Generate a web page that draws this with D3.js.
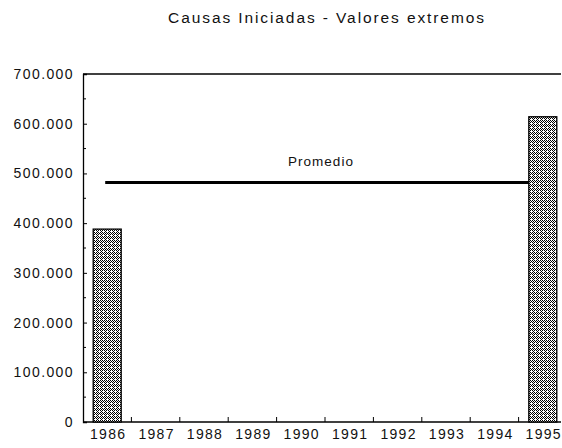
<!DOCTYPE html>
<html><head><meta charset="utf-8">
<script src="https://cdn.jsdelivr.net/npm/d3@7"></script>
<style>body{margin:0;background:#fff}svg{display:block}text{font-family:"Liberation Sans",Arial,sans-serif;fill:#111}</style>
</head><body>
<svg id="c" width="562" height="448"></svg>
<script>
const years = ["1986","1987","1988","1989","1990","1991","1992","1993","1994","1995"];
const values = [388000,null,null,null,null,null,null,null,null,614000];
const promedio = 482000;
const yTicks = [0,100000,200000,300000,400000,500000,600000,700000];
const title = "Causas Iniciadas - Valores extremos";

const svg = d3.select("#c");
const L=83, R=567, T=74, B=422;
const x = d3.scaleBand().domain(years).range([L,R]).paddingInner(0).paddingOuter(0);
const y = d3.scaleLinear().domain([0,700000]).range([B,T]);
const fmt = d => d===0 ? "0" : d3.format(",")(d).replace(/,/g,".");

const defs = svg.append("defs");
const pat = defs.append("pattern").attr("id","dots").attr("patternUnits","userSpaceOnUse").attr("width",4).attr("height",4);
pat.append("rect").attr("width",4).attr("height",4).attr("fill","#fff");
[[0,0],[2,0],[1,1],[3,1],[0,2],[2,2],[1,3]].forEach(([a,b])=>
  pat.append("rect").attr("x",a).attr("y",b).attr("width",1).attr("height",1).attr("fill","#000"));

svg.append("text").attr("x",327).attr("y",23).attr("text-anchor","middle").attr("font-size",15.5).attr("letter-spacing",1.9).text(title);

// frame
svg.append("line").attr("x1",L).attr("x2",561).attr("y1",T).attr("y2",T).attr("stroke","#000").attr("stroke-width",1.3);

// y axis
const ya = svg.append("g").attr("transform",`translate(${L},0)`)
  .call(d3.axisRight(y).tickValues(yTicks).tickSize(4).tickFormat(""));
ya.select(".domain").attr("stroke-width",1.3);
const yMinor = d3.range(50000,700000,100000);
svg.append("g").selectAll("line").data(yMinor).join("line")
  .attr("x1",L).attr("x2",L+3).attr("y1",d=>y(d)).attr("y2",d=>y(d)).attr("stroke","#000");
svg.append("g").selectAll("text").data(yTicks).join("text")
  .attr("x",74).attr("y",d=>y(d)+5).attr("text-anchor","end").attr("font-size",14).attr("letter-spacing",1.4)
  .text(fmt);

// x axis
svg.append("line").attr("x1",L).attr("x2",561).attr("y1",B).attr("y2",B).attr("stroke","#000").attr("stroke-width",1.3);
const bounds = years.slice(1).map(d=>x(d));
svg.append("g").selectAll("line").data(bounds).join("line")
  .attr("x1",d=>d).attr("x2",d=>d).attr("y1",B).attr("y2",B-5).attr("stroke","#000");
svg.append("g").selectAll("text").data(years).join("text")
  .attr("x",d=>x(d)+x.bandwidth()/2+1).attr("y",B+17).attr("text-anchor","middle").attr("font-size",14).attr("letter-spacing",1.3)
  .text(d=>d);

// promedio line
svg.append("line").attr("x1",x(years[0])+x.bandwidth()/2-2).attr("x2",x(years[9])+x.bandwidth()/2)
  .attr("y1",y(promedio)).attr("y2",y(promedio)).attr("stroke","#000").attr("stroke-width",3);
svg.append("text").attr("x",321).attr("y",y(promedio)-16).attr("text-anchor","middle").attr("font-size",13.5).attr("letter-spacing",1).text("Promedio");

// bars
const bw = 28;
svg.append("g").selectAll("rect").data(years.map((d,i)=>({d,v:values[i]})).filter(o=>o.v!=null)).join("rect")
  .attr("x",o=>x(o.d)+x.bandwidth()/2-bw/2).attr("width",bw)
  .attr("y",o=>y(o.v)).attr("height",o=>B-y(o.v))
  .attr("fill","url(#dots)").attr("stroke","#000").attr("stroke-width",1.3);
</script>
</body></html>
